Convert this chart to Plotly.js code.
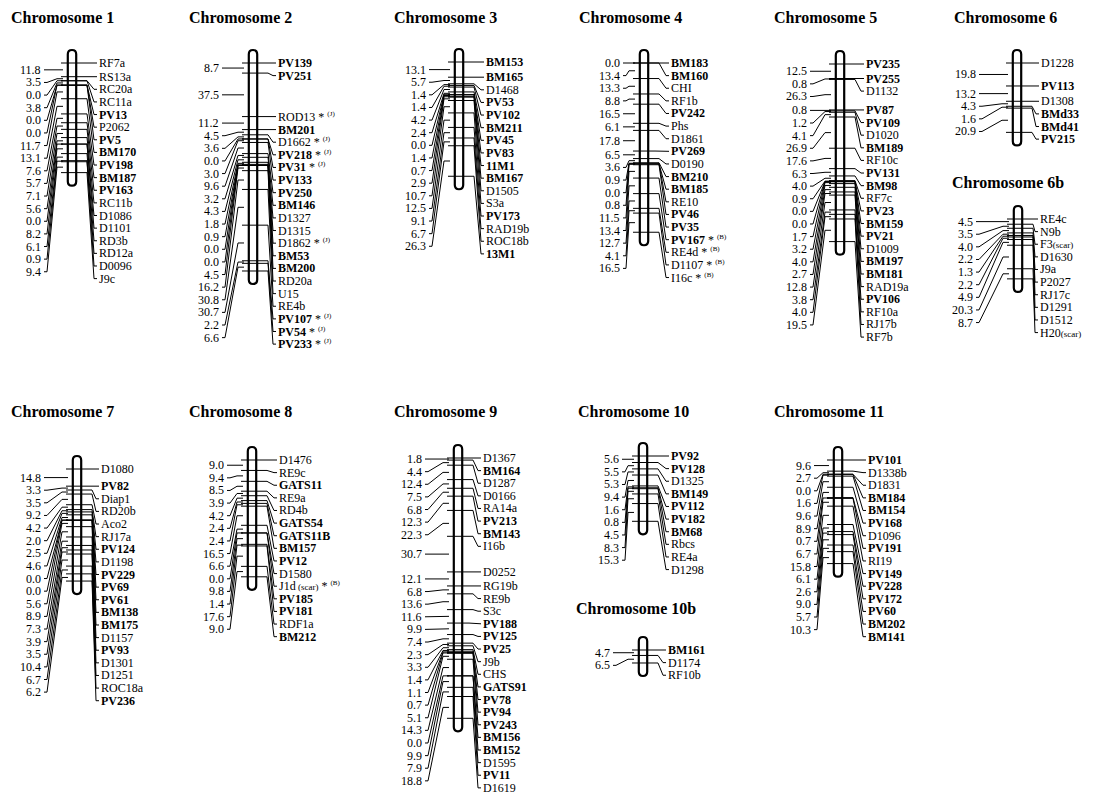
<!DOCTYPE html>
<html><head><meta charset="utf-8">
<script src="https://cdn.plot.ly/plotly-3.0.1.min.js"></script>
<style>html,body{margin:0;padding:0;background:#fff}</style>
</head><body><div id="chart" style="width:1103px;height:794px"></div>
<script>
// ---------------- DATA ----------------
const chr1Markers = ["RF7a","RS13a","RC20a","RC11a","PV13","P2062","PV5","BM170","PV198","BM187","PV163","RC11b","D1086","D1101","RD3b","RD12a","D0096","J9c"];
const chr1Dist = [11.8,3.5,0.0,3.8,0.0,0.0,11.7,13.1,7.6,5.7,7.1,5.6,0.0,8.2,6.1,0.9,9.4];

const chr2Markers = ["PV139","PV251","ROD13*(J)","BM201","D1662*(J)","PV218*(J)","PV31*(J)","PV133","PV250","BM146","D1327","D1315","D1862*(J)","BM53","BM200","RD20a","U15","RE4b","PV107*(J)","PV54*(J)","PV233*(J)"];
const chr2Dist = [8.7,37.5,11.2,4.5,3.6,0.0,3.0,9.6,3.2,4.3,1.8,0.9,0.0,0.0,4.5,16.2,30.8,30.7,2.2,6.6];

const chr3Markers = ["BM153","BM165","D1468","PV53","PV102","BM211","PV45","PV83","11M1","BM167","D1505","S3a","PV173","RAD19b","ROC18b","13M1"];
const chr3Dist = [13.1,5.7,1.4,1.4,4.2,2.4,0.0,1.4,0.7,2.9,10.7,12.5,9.1,6.7,26.3];

const chr4Markers = ["BM183","BM160","CHI","RF1b","PV242","Phs","D1861","PV269","D0190","BM210","BM185","RE10","PV46","PV35","PV167*(B)","RE4d*(B)","D1107*(B)","I16c*(B)"];
const chr4Dist = [0.0,13.4,13.3,8.8,16.5,6.1,17.8,6.5,3.6,0.9,0.0,0.8,11.5,13.4,12.7,4.1,16.5];

const chr5Markers = ["PV235","PV255","D1132","PV87","PV109","D1020","BM189","RF10c","PV131","BM98","RF7c","PV23","BM159","PV21","D1009","BM197","BM181","RAD19a","PV106","RF10a","RJ17b","RF7b"];
const chr5Dist = [12.5,0.8,26.3,0.8,1.2,4.1,26.9,17.6,6.3,4.0,0.9,0.0,0.0,1.7,3.2,4.0,2.7,12.8,3.8,4.0,19.5];

const chr6Markers = ["D1228","PV113","D1308","BMd33","BMd41","PV215"];
const chr6Dist = [19.8,13.2,4.3,1.6,20.9];

const chr6bMarkers = ["RE4c","N9b","F3(scar)","D1630","J9a","P2027","RJ17c","D1291","D1512","H20(scar)"];
const chr6bDist = [4.5,3.5,4.0,2.2,1.3,2.2,4.9,20.3,8.7];

const chr7Markers = ["D1080","PV82","Diap1","RD20b","Aco2","RJ17a","PV124","D1198","PV229","PV69","PV61","BM138","BM175","D1157","PV93","D1301","D1251","ROC18a","PV236"];
const chr7Dist = [14.8,3.3,3.5,9.2,4.2,2.0,2.5,4.6,0.0,0.0,5.6,8.9,7.3,3.9,3.5,10.4,6.7,6.2];

const chr8Markers = ["D1476","RE9c","GATS11","RE9a","RD4b","GATS54","GATS11B","BM157","PV12","D1580","J1d (scar)*(B)","PV185","PV181","RDF1a","BM212"];
const chr8Dist = [9.0,9.4,8.5,3.9,4.2,2.4,2.4,16.5,6.6,0.0,9.8,1.4,17.6,9.0];

const chr9Markers = ["D1367","BM164","D1287","D0166","RA14a","PV213","BM143","I16b","D0252","RG19b","RE9b","S3c","PV188","PV125","PV25","J9b","CHS","GATS91","PV78","PV94","PV243","BM156","BM152","D1595","PV11","D1619"];
const chr9Dist = [1.8,4.4,12.4,7.5,6.8,12.3,22.3,30.7,12.1,6.8,13.6,11.6,9.9,7.4,2.3,3.3,1.4,1.1,0.7,5.1,14.3,0.0,9.9,7.9,18.8];

const chr10Markers = ["PV92","PV128","D1325","BM149","PV112","PV182","BM68","Rbcs","RE4a","D1298"];
const chr10Dist = [5.6,5.5,5.3,9.4,1.6,0.8,4.5,8.3,15.3];

const chr10bMarkers = ["BM161","D1174","RF10b"];
const chr10bDist = [4.7,6.5];

const chr11Markers = ["PV101","D1338b","D1831","BM184","BM154","PV168","D1096","PV191","RI19","PV149","PV228","PV172","PV60","BM202","BM141"];
const chr11Dist = [9.6,2.7,0.0,1.6,9.6,8.9,0.7,6.7,15.8,6.1,2.6,9.0,5.7,10.3];

// ---------------- LAYOUT OF PANELS ----------------
const panels = [
  {title:"Chromosome 1",  m:chr1Markers,  d:chr1Dist,  bx:72,   y0:63,  tx:10,  ty:17,  nOff:30, lOff:26},
  {title:"Chromosome 2",  m:chr2Markers,  d:chr2Dist,  bx:253,  y0:63,  tx:188, ty:17,  nOff:33, lOff:24},
  {title:"Chromosome 3",  m:chr3Markers,  d:chr3Dist,  bx:459,  y0:62,  tx:393, ty:17,  nOff:32, lOff:26},
  {title:"Chromosome 4",  m:chr4Markers,  d:chr4Dist,  bx:644,  y0:63,  tx:578, ty:17,  nOff:23, lOff:26},
  {title:"Chromosome 5",  m:chr5Markers,  d:chr5Dist,  bx:840,  y0:64,  tx:773, ty:17,  nOff:32, lOff:25},
  {title:"Chromosome 6",  m:chr6Markers,  d:chr6Dist,  bx:1017, y0:63,  tx:953, ty:17,  nOff:40, lOff:23},
  {title:"Chromosome 6b", m:chr6bMarkers, d:chr6bDist, bx:1018, y0:219, tx:951, ty:182, nOff:44, lOff:21},
  {title:"Chromosome 7",  m:chr7Markers,  d:chr7Dist,  bx:77,   y0:469, tx:10,  ty:411, nOff:35, lOff:23},
  {title:"Chromosome 8",  m:chr8Markers,  d:chr8Dist,  bx:252,  y0:460, tx:188, ty:411, nOff:27, lOff:26},
  {title:"Chromosome 9",  m:chr9Markers,  d:chr9Dist,  bx:458,  y0:458, tx:393, ty:411, nOff:35, lOff:24},
  {title:"Chromosome 10", m:chr10Markers, d:chr10Dist, bx:643,  y0:456, tx:577, ty:411, nOff:23, lOff:27},
  {title:"Chromosome 10b",m:chr10bMarkers,d:chr10bDist,bx:643,  y0:650, tx:575, ty:608, nOff:32, lOff:24},
  {title:"Chromosome 11", m:chr11Markers, d:chr11Dist, bx:838,  y0:460, tx:773, ty:411, nOff:26, lOff:29}
];

const S = 1.16;   // px per cM
const LS = 12.62; // min label spacing
const FONT = "Liberation Serif, Times New Roman, serif";

function fmt(m){
  let note = "";
  let name = m;
  const mm = m.match(/^(.*)\*\((\w)\)$/);
  if (mm){ name = mm[1].trim(); note = ' * <sup><span style="font-size:7px;color:#000">(' + mm[2] + ')</span></sup>'; }
  const bold = /^(PV|BM|GATS|11M1|13M1)/.test(name);
  name = name.replace(/\s?\(scar\)/, s => '<span style="font-size:9px;color:#000">' + s + '</span>');
  return (bold ? "<b>" + name + "</b>" : name) + note;
}
function spread(desired){
  const out = [];
  desired.forEach((v,i) => out.push(i === 0 ? v : Math.max(v, out[i-1] + LS)));
  return out;
}

const traces = [], shapes = [], annotations = [];
panels.forEach(p => {
  const cum = [0];
  p.d.forEach(v => cum.push(cum[cum.length-1] + v));
  const tickY = cum.map(c => p.y0 + c*S);
  const labY = spread(tickY);
  const midY = p.d.map((v,i) => p.y0 + (cum[i] + v/2)*S);
  const numY = spread(midY);
  const bx = p.bx, lx = bx + p.lOff, nx = bx - p.nOff;
  const top = tickY[0] - 13, bot = tickY[tickY.length-1] + 13, h = 4.2;
  shapes.push({type:"path", layer:"below", xref:"x", yref:"y",
    path:`M ${bx-h},${top+h} Q ${bx-h},${top} ${bx},${top} Q ${bx+h},${top} ${bx+h},${top+h} L ${bx+h},${bot-h} Q ${bx+h},${bot} ${bx},${bot} Q ${bx-h},${bot} ${bx-h},${bot-h} Z`,
    line:{color:"#000", width:2.2}, fillcolor:"#fff"});
  const xs = [], ys = [];
  tickY.forEach((t,i) => {
    xs.push(bx-11, bx+11, null); ys.push(t, t, null);
    xs.push(bx+11, bx+15, lx-4, lx-1, null); ys.push(t, t, labY[i], labY[i], null);
  });
  midY.forEach((m,i) => {
    xs.push(nx+2, nx+5, bx-15, bx-9, null); ys.push(numY[i], numY[i], m, m, null);
  });
  traces.push({type:"scatter", mode:"lines", x:xs, y:ys, line:{color:"#000", width:1}, hoverinfo:"skip", showlegend:false});
  p.m.forEach((m,i) => annotations.push({x:lx, y:labY[i], xref:"x", yref:"y", text:fmt(m), showarrow:false,
    xanchor:"left", yanchor:"middle", font:{family:FONT, size:12, color:"#000"}, borderpad:0}));
  p.d.forEach((v,i) => annotations.push({x:nx, y:numY[i], xref:"x", yref:"y", text:v.toFixed(1), showarrow:false,
    xanchor:"right", yanchor:"middle", font:{family:FONT, size:12, color:"#000"}, borderpad:0}));
  annotations.push({x:p.tx, y:p.ty, xref:"x", yref:"y", text:"<b>" + p.title + "</b>", showarrow:false,
    xanchor:"left", yanchor:"middle", font:{family:FONT, size:16, color:"#000"}, borderpad:0});
});

Plotly.newPlot("chart", traces, {
  width:1103, height:794, margin:{l:0, r:0, t:0, b:0},
  paper_bgcolor:"#fff", plot_bgcolor:"#fff", showlegend:false,
  xaxis:{range:[0,1103], visible:false, fixedrange:true},
  yaxis:{range:[794,0], visible:false, fixedrange:true},
  shapes:shapes, annotations:annotations
}, {staticPlot:true});
</script></body></html>
